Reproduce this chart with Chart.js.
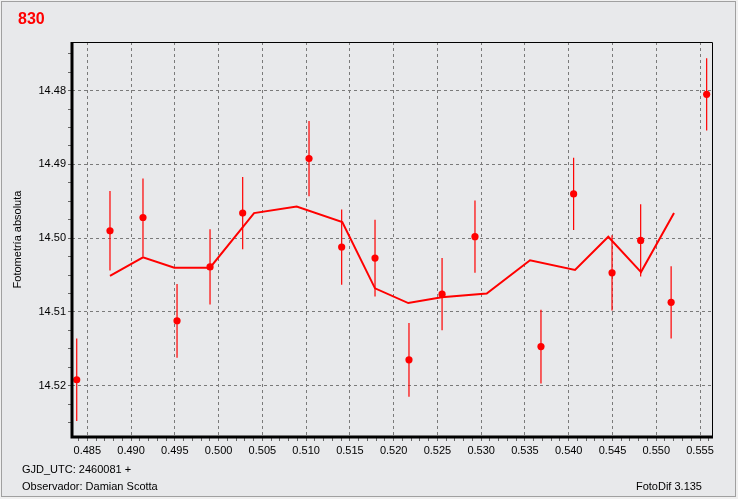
<!DOCTYPE html>
<html lang="es">

<head>
    <meta charset="UTF-8">
    <title>830 - Fotometría absoluta</title>
    <style>
        body { margin: 0; background: #f0f0f0; }
        #wrap { position: relative; width: 738px; height: 499px; }
        #frame { position: absolute; left: 1px; top: 1px; width: 733px; height: 494px; border: 1px solid #a0a0a0; background: #e8e9eb; }
        #myChart { position: absolute; left: 0; top: 0; }
        .txt { position: absolute; font-family: "Liberation Sans", Arial, sans-serif; font-size: 11px; line-height: 13px; color: #000; white-space: nowrap; }
        #star { left: 18px; top: 11px; font-size: 16px; line-height: 16px; font-weight: bold; color: #ff0000; }
    </style>
</head>

<body>
    <div id="wrap">
        <div id="frame"></div>
        <canvas id="myChart" width="738" height="499"></canvas>
        <div class="txt" id="star">830</div>
        <div class="txt" style="left:22px;top:463px;">GJD_UTC: 2460081 +</div>
        <div class="txt" style="left:22px;top:480px;">Observador: Damian Scotta</div>
        <div class="txt" style="right:36px;top:480px;">FotoDif 3.135</div>
    </div>

    <script src="https://cdn.jsdelivr.net/npm/chart.js"></script>
    <script>
        // medidas
        var xVals = [0.48379, 0.48759, 0.49136, 0.49525, 0.49902, 0.50275, 0.51033, 0.51406, 0.51787, 0.52175, 0.52553, 0.52929, 0.53683, 0.54056, 0.54495, 0.54822, 0.55170, 0.55576];
        var yVals = [14.5192, 14.4990, 14.4972, 14.5112, 14.5039, 14.4966, 14.4892, 14.5012, 14.5027, 14.5165, 14.5076, 14.4998, 14.5147, 14.4940, 14.5047, 14.5003, 14.5087, 14.4805];
        var errVals = [0.0056, 0.0054, 0.0053, 0.0050, 0.0051, 0.0049, 0.0051, 0.0051, 0.0052, 0.0050, 0.0049, 0.0049, 0.0050, 0.0049, 0.0051, 0.0049, 0.0049, 0.0049];
        // curva media
        var meanX = [0.48759, 0.49136, 0.49494, 0.49902, 0.50405, 0.50892, 0.51413, 0.51787, 0.52167, 0.52549, 0.53063, 0.53558, 0.54072, 0.54452, 0.54826, 0.55203];
        var meanY = [14.5051, 14.5026, 14.5040, 14.5040, 14.4966, 14.4957, 14.4978, 14.5068, 14.5088, 14.5080, 14.5075, 14.5030, 14.5043, 14.4998, 14.5046, 14.4966];
        // ejes
        var xTickLabels = ['0.485', '0.490', '0.495', '0.500', '0.505', '0.510', '0.515', '0.520', '0.525', '0.530', '0.535', '0.540', '0.545', '0.550', '0.555'];
        var yTickLabels = ['14.48', '14.49', '14.50', '14.51', '14.52'];
        var xMinorStep = 0.001;
        var yMinorStep = 0.0025;

        var pts = xVals.map(function (x, i) { return { x: x, y: yVals[i] }; });
        var bars = [];
        xVals.forEach(function (x, i) {
            bars.push({ x: x, y: yVals[i] - errVals[i] });
            bars.push({ x: x, y: yVals[i] + errVals[i] });
            bars.push({ x: x, y: null });
        });
        var mean = meanX.map(function (x, i) { return { x: x, y: meanY[i] }; });

        function findMajor(list, v, tol) {
            for (var i = 0; i < list.length; i++) {
                if (Math.abs(parseFloat(list[i]) - v) < tol) return list[i];
            }
            return null;
        }

        function buildTicks(list, step, min, max) {
            var first = parseFloat(list[0]);
            var out = [];
            var k = Math.ceil((min - first) / step - 1e-9);
            for (; first + k * step <= max + 1e-12; k++) {
                out.push({ value: +(first + k * step).toFixed(6) });
            }
            return out;
        }

        var frame = {
            id: 'frame',
            afterDraw: function (chart) {
                var a = chart.chartArea, c = chart.ctx;
                c.save();
                c.strokeStyle = '#000';
                c.lineWidth = 1;
                c.beginPath();
                c.moveTo(a.left, a.top + 0.5); c.lineTo(a.right + 0.5, a.top + 0.5); c.lineTo(a.right + 0.5, a.bottom);
                c.stroke();
                c.lineWidth = 3;
                c.beginPath();
                c.moveTo(a.left, a.top); c.lineTo(a.left, a.bottom); c.lineTo(a.right + 1, a.bottom);
                c.stroke();
                c.restore();
            }
        };

        var font = { family: '"Liberation Sans", Arial, sans-serif', size: 11 };

        var chart01 = new Chart(document.getElementById('myChart'), {
            type: 'scatter',
            data: {
                datasets: [{
                    label: 'medidas',
                    data: pts,
                    pointRadius: 3.6,
                    pointBackgroundColor: '#ff0000',
                    pointBorderWidth: 0,
                    order: 0
                }, {
                    type: 'line',
                    label: 'media',
                    data: mean,
                    borderColor: '#ff0000',
                    borderWidth: 2,
                    pointRadius: 0,
                    tension: 0,
                    order: 1
                }, {
                    type: 'line',
                    label: 'error',
                    data: bars,
                    borderColor: '#ff0000',
                    borderWidth: 1.2,
                    pointRadius: 0,
                    spanGaps: false,
                    order: 2
                }]
            },
            options: {
                responsive: false,
                animation: false,
                events: [],
                layout: { padding: { top: 42, right: 26, bottom: 0, left: 0 } },
                plugins: { legend: { display: false }, tooltip: { enabled: false } },
                scales: {
                    x: {
                        type: 'linear',
                        min: 0.48325,
                        max: 0.55637,
                        afterFit: function (s) { s.height = 62; },
                        afterBuildTicks: function (s) { s.ticks = buildTicks(xTickLabels, xMinorStep, s.min, s.max); },
                        ticks: {
                            autoSkip: false, maxRotation: 0, padding: 3, color: '#000', font: font,
                            callback: function (v) { return findMajor(xTickLabels, v, 1e-5) || ''; }
                        },
                        grid: {
                            color: function (ctx) { return ctx.tick && findMajor(xTickLabels, ctx.tick.value, 1e-5) ? '#7a7a7a' : 'rgba(0,0,0,0)'; },
                            tickColor: '#666', tickLength: 4, lineWidth: 1
                        },
                        border: { display: false, dash: [3, 3] }
                    },
                    y: {
                        type: 'linear',
                        reverse: true,
                        min: 14.4734,
                        max: 14.52696,
                        afterFit: function (s) { s.width = 72; },
                        afterBuildTicks: function (s) { s.ticks = buildTicks(yTickLabels, yMinorStep, s.min, s.max); },
                        ticks: {
                            autoSkip: false, padding: 2, color: '#000', font: font,
                            callback: function (v) { return findMajor(yTickLabels, v, 1e-5) || ''; }
                        },
                        grid: {
                            color: function (ctx) { return ctx.tick && findMajor(yTickLabels, ctx.tick.value, 1e-5) ? '#7a7a7a' : 'rgba(0,0,0,0)'; },
                            tickColor: '#666', tickLength: 4, lineWidth: 1
                        },
                        border: { display: false, dash: [3, 3] },
                        title: { display: true, text: 'Fotometría absoluta', color: '#000', font: font, padding: { top: 11, bottom: 0 } }
                    }
                }
            },
            plugins: [frame]
        });
    </script>
</body>

</html>
